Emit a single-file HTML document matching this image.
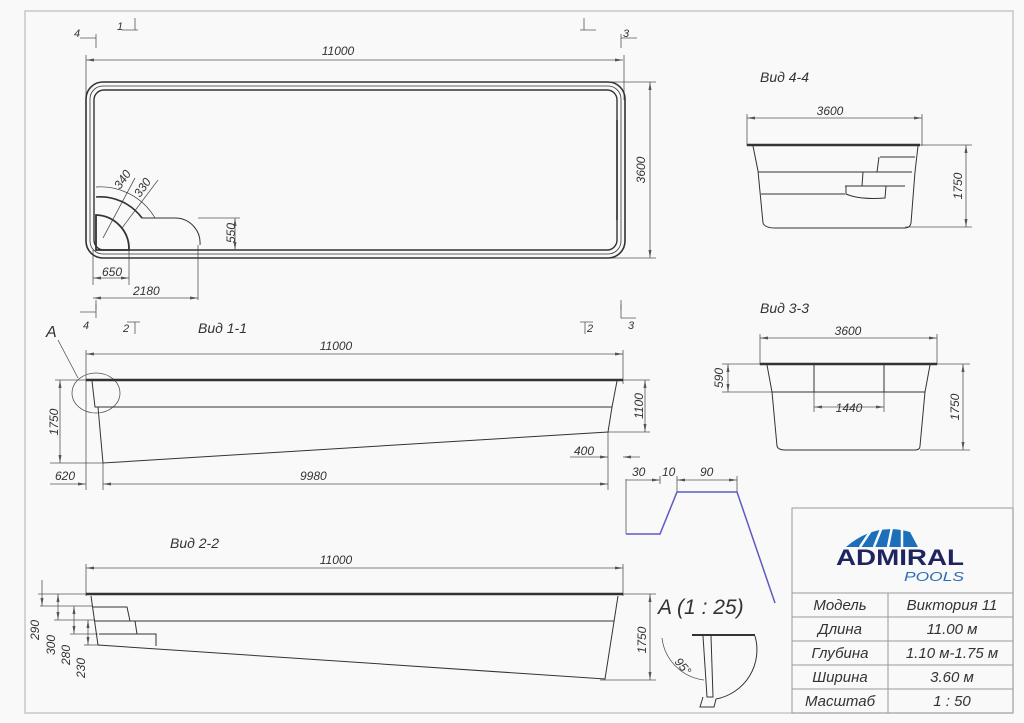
<!DOCTYPE html>
<html><head><meta charset="utf-8"><style>
html,body{margin:0;padding:0;background:#f9f9f9;}
svg{display:block;}
text{font-family:"Liberation Sans","DejaVu Sans",sans-serif;font-style:italic;fill:#333;}
</style></head><body>
<svg width="1024" height="723" viewBox="0 0 1024 723" xmlns="http://www.w3.org/2000/svg">
<rect x="0" y="0" width="1024" height="723" fill="#f9f9f9"/>
<rect x="25" y="11" width="988" height="702" fill="none" stroke="#bbb" stroke-width="1.2"/>
<defs>
<marker id="ar" markerWidth="8" markerHeight="6" refX="8" refY="3" orient="auto-start-reverse" markerUnits="userSpaceOnUse"><path d="M0,1.5 L8,3 L0,4.5" fill="#555"/></marker>
</defs>
<g stroke="#555" stroke-width="0.8" fill="none">
<line x1="86" y1="60" x2="623" y2="60" marker-start="url(#ar)" marker-end="url(#ar)"/>
<line x1="86" y1="55" x2="86" y2="100"/><line x1="624" y1="55" x2="624" y2="100"/>
<line x1="650" y1="82" x2="650" y2="258" marker-start="url(#ar)" marker-end="url(#ar)"/>
<line x1="610" y1="82" x2="656" y2="82"/><line x1="610" y1="258" x2="656" y2="258"/>
<path d="M80,38 L96,38 M96,34 L96,48 M122,30 L138,30 M135,18 L135,30 M580,30 L596,30 M584,18 L584,30 M621,38 L637,38 M621,34 L621,48"/>
<line x1="96" y1="300" x2="96" y2="310"/><line x1="621" y1="300" x2="621" y2="310"/>
<line x1="93" y1="250" x2="93" y2="285"/><line x1="129" y1="250" x2="129" y2="285"/><line x1="198" y1="245" x2="198" y2="300"/>
<line x1="93" y1="278" x2="129" y2="278" marker-start="url(#ar)" marker-end="url(#ar)"/>
<line x1="93" y1="298" x2="198" y2="298" marker-start="url(#ar)" marker-end="url(#ar)"/>
<line x1="235" y1="218" x2="235" y2="250" marker-start="url(#ar)" marker-end="url(#ar)"/>
<line x1="198" y1="218" x2="240" y2="218"/>
<line x1="103" y1="238" x2="135" y2="178"/><line x1="122" y1="228" x2="158" y2="180"/>
</g>
<g fill="none" stroke="#333">
<rect x="86" y="82" width="539" height="176" rx="17" stroke-width="1.6"/>
<rect x="90" y="86" width="531" height="168" rx="13" stroke-width="0.8"/>
<rect x="94" y="90" width="523" height="160" rx="10" stroke-width="1.4"/>
<path d="M96,215 A34,34 0 0 1 129,250 L96,250 Z" stroke-width="1.8"/>
<path d="M96,197 A52,52 0 0 1 142,218 L176,218 A25,25 0 0 1 200,245" stroke-width="1"/>
<path d="M96,187 A63,63 0 0 1 155,218" stroke-width="0.7"/>
<path d="M96,197 A52,52 0 0 1 142,218" stroke-width="1.6"/>
<line x1="617" y1="120" x2="617" y2="220" stroke-width="1.5"/>
</g>
<g font-size="12">
<text x="338" y="55" text-anchor="middle">11000</text>
<text transform="translate(645,170) rotate(-90)" text-anchor="middle">3600</text>
<text x="102" y="276">650</text>
<text x="133" y="295">2180</text>
<text transform="translate(235,243) rotate(-90)">550</text>
<text transform="translate(120,190) rotate(-55)">340</text>
<text transform="translate(140,198) rotate(-55)">330</text>
<text x="74" y="37" font-size="11">4</text><text x="117" y="30" font-size="11">1</text>
<text x="623" y="37" font-size="11">3</text>
<text x="83" y="329" font-size="11">4</text><text x="123" y="332" font-size="11">2</text>
<text x="587" y="332" font-size="11">2</text><text x="628" y="329" font-size="11">3</text>
</g>
<g stroke="#555" stroke-width="0.8" fill="none">
<path d="M80,312 L96,312 M96,304 L96,318 M127,322 L140,322 M135,322 L135,334 M580,322 L593,322 M585,322 L585,334 M621,304 L621,318 L636,318"/>
</g>
<text x="198" y="333" font-size="14">Вид 1-1</text>
<text x="46" y="337" font-size="16">A</text>
<g stroke="#555" stroke-width="0.8" fill="none">
<line x1="86" y1="354" x2="623" y2="354" marker-start="url(#ar)" marker-end="url(#ar)"/>
<line x1="86" y1="350" x2="86" y2="490"/><line x1="623" y1="350" x2="623" y2="384"/>
<line x1="60" y1="380" x2="60" y2="463" marker-start="url(#ar)" marker-end="url(#ar)"/>
<line x1="55" y1="380" x2="86" y2="380"/><line x1="50" y1="463" x2="103" y2="463"/>
<line x1="645" y1="380" x2="645" y2="432" marker-start="url(#ar)" marker-end="url(#ar)"/>
<line x1="623" y1="380" x2="650" y2="380"/><line x1="608" y1="432" x2="650" y2="432"/>
<line x1="103" y1="463" x2="103" y2="490"/><line x1="608" y1="432" x2="608" y2="490"/>
<line x1="103" y1="484" x2="608" y2="484" marker-start="url(#ar)" marker-end="url(#ar)"/>
<line x1="50" y1="484" x2="86" y2="484" marker-end="url(#ar)"/>
<line x1="570" y1="457" x2="608" y2="457" marker-end="url(#ar)"/>
<line x1="623" y1="457" x2="640" y2="457" marker-start="url(#ar)"/>
<ellipse cx="96" cy="393" rx="24" ry="20"/>
<line x1="58" y1="340" x2="78" y2="378"/>
</g>
<g fill="none" stroke="#333" stroke-width="1">
<line x1="86" y1="380" x2="623" y2="380" stroke-width="2.4"/>
<path d="M92,381 L95,407 L612,407 L617,381"/>
<path d="M98,407 L103,463 L608,432 L612,407"/>
</g>
<g font-size="12">
<text x="336" y="350" text-anchor="middle">11000</text>
<text transform="translate(58,422) rotate(-90)" text-anchor="middle">1750</text>
<text transform="translate(643,406) rotate(-90)" text-anchor="middle">1100</text>
<text x="55" y="480">620</text>
<text x="300" y="480">9980</text>
<text x="574" y="455">400</text>
</g>
<text x="170" y="548" font-size="14">Вид 2-2</text>
<g stroke="#555" stroke-width="0.8" fill="none">
<line x1="86" y1="568" x2="623" y2="568" marker-start="url(#ar)" marker-end="url(#ar)"/>
<line x1="86" y1="564" x2="86" y2="596"/><line x1="623" y1="564" x2="623" y2="596"/>
<line x1="650" y1="594" x2="650" y2="680" marker-start="url(#ar)" marker-end="url(#ar)"/>
<line x1="623" y1="594" x2="656" y2="594"/><line x1="600" y1="680" x2="656" y2="680"/>
<line x1="42" y1="580" x2="42" y2="606" marker-end="url(#ar)"/>
<line x1="58" y1="594" x2="58" y2="620" marker-start="url(#ar)" marker-end="url(#ar)"/>
<line x1="74" y1="606" x2="74" y2="634" marker-start="url(#ar)" marker-end="url(#ar)"/>
<line x1="88" y1="620" x2="88" y2="645" marker-start="url(#ar)" marker-end="url(#ar)"/>
<line x1="38" y1="594" x2="88" y2="594"/><line x1="40" y1="606" x2="92" y2="606"/>
<line x1="54" y1="620" x2="95" y2="620"/><line x1="70" y1="634" x2="98" y2="634"/>
<line x1="84" y1="645" x2="100" y2="645"/>
</g>
<g fill="none" stroke="#333" stroke-width="1">
<line x1="86" y1="594" x2="623" y2="594" stroke-width="2.4"/>
<path d="M91,596 L98,645 L605,679 L618,596"/>
<path d="M94,621 L614,621"/>
<path d="M93,607 L127,607 L130,621 M96,621 L135,621 L137,634 M99,634 L156,634 L156,646"/>
</g>
<g font-size="12">
<text x="336" y="564" text-anchor="middle">11000</text>
<text transform="translate(646,640) rotate(-90)" text-anchor="middle">1750</text>
<text transform="translate(39,630) rotate(-90)" text-anchor="middle">290</text>
<text transform="translate(55,645) rotate(-90)" text-anchor="middle">300</text>
<text transform="translate(70,655) rotate(-90)" text-anchor="middle">280</text>
<text transform="translate(85,668) rotate(-90)" text-anchor="middle">230</text>
</g>
<text x="760" y="82" font-size="14">Вид 4-4</text>
<g stroke="#555" stroke-width="0.8" fill="none">
<line x1="747" y1="118" x2="922" y2="118" marker-start="url(#ar)" marker-end="url(#ar)"/>
<line x1="747" y1="114" x2="747" y2="146"/><line x1="922" y1="114" x2="922" y2="146"/>
<line x1="966" y1="145" x2="966" y2="227" marker-start="url(#ar)" marker-end="url(#ar)"/>
<line x1="920" y1="145" x2="972" y2="145"/><line x1="905" y1="227" x2="972" y2="227"/>
</g>
<g fill="none" stroke="#333" stroke-width="1">
<line x1="747" y1="145" x2="920" y2="145" stroke-width="2.4"/>
<path d="M753,146 L758,171 L763,223 Q765,228 775,228 L905,228 Q910,228 911,223 L915,172 L918,146"/>
<path d="M758,172 L880,172 M761,194 L845,194"/>
<path d="M880,157 L915,157 M879,157 L877,172 M862,172 L912,172 M863,172 L862,186 M845,186 L905,186 M846,186 L846,194 Q860,200 885,198 L886,186"/>
</g>
<g font-size="12">
<text x="830" y="115" text-anchor="middle">3600</text>
<text transform="translate(962,186) rotate(-90)" text-anchor="middle">1750</text>
</g>
<text x="760" y="313" font-size="14">Вид 3-3</text>
<g stroke="#555" stroke-width="0.8" fill="none">
<line x1="760" y1="338" x2="937" y2="338" marker-start="url(#ar)" marker-end="url(#ar)"/>
<line x1="760" y1="334" x2="760" y2="365"/><line x1="937" y1="334" x2="937" y2="365"/>
<line x1="728" y1="364" x2="728" y2="392" marker-start="url(#ar)" marker-end="url(#ar)"/>
<line x1="722" y1="364" x2="762" y2="364"/><line x1="722" y1="392" x2="772" y2="392"/>
<line x1="963" y1="364" x2="963" y2="450" marker-start="url(#ar)" marker-end="url(#ar)"/>
<line x1="937" y1="364" x2="970" y2="364"/><line x1="920" y1="450" x2="970" y2="450"/>
<line x1="814" y1="407" x2="884" y2="407" marker-start="url(#ar)" marker-end="url(#ar)"/>
<line x1="814" y1="392" x2="814" y2="412"/><line x1="884" y1="392" x2="884" y2="412"/>
</g>
<g fill="none" stroke="#333" stroke-width="1">
<line x1="760" y1="364" x2="937" y2="364" stroke-width="2.4"/>
<path d="M767,365 L772,392 L777,446 Q778,450 785,450 L915,450 Q920,450 920,446 L925,392 L930,365"/>
<path d="M772,392 L925,392 M814,365 L814,392 M884,365 L884,392"/>
</g>
<g font-size="12">
<text x="848" y="335" text-anchor="middle">3600</text>
<text x="849" y="412" text-anchor="middle">1440</text>
<text transform="translate(723,378) rotate(-90)" text-anchor="middle">590</text>
<text transform="translate(959,407) rotate(-90)" text-anchor="middle">1750</text>
</g>
<g stroke="#555" stroke-width="0.8" fill="none">
<line x1="626" y1="479" x2="626" y2="534"/>
<line x1="660" y1="476" x2="660" y2="484"/><line x1="677" y1="476" x2="677" y2="492"/><line x1="737" y1="476" x2="737" y2="492"/>
<line x1="626" y1="480" x2="660" y2="480" marker-end="url(#ar)"/>
<line x1="677" y1="480" x2="737" y2="480" marker-start="url(#ar)" marker-end="url(#ar)"/>
</g>
<path d="M626,534 L660,534 L677,492 L737,492 L775,603" fill="none" stroke="#5b5bc0" stroke-width="1.5"/>
<g font-size="12"><text x="632" y="476">30</text><text x="662" y="476">10</text><text x="700" y="476">90</text></g>
<text x="658" y="614" font-size="21">A (1 : 25)</text>
<g fill="none" stroke="#333" stroke-width="1">
<line x1="692" y1="635" x2="755" y2="635" stroke-width="2"/>
<path d="M703,636 L707,697 L713,697 L711,636"/>
<path d="M755,636 A50,50 0 0 1 716,699 L714,707 L700,707 L703,697"/>
<path d="M662,638 A48,48 0 0 0 704,680" stroke="#555" stroke-width="0.8"/>
</g>
<text transform="translate(674,662) rotate(50)" font-size="12">95°</text>
<g fill="none" stroke="#999" stroke-width="1">
<rect x="792" y="508" width="221" height="205"/>
<line x1="792" y1="593" x2="1013" y2="593"/>
<line x1="792" y1="617" x2="1013" y2="617"/><line x1="792" y1="641" x2="1013" y2="641"/>
<line x1="792" y1="665" x2="1013" y2="665"/><line x1="792" y1="689" x2="1013" y2="689"/>
<line x1="888" y1="593" x2="888" y2="713"/>
</g>
<g>
<path d="M846,547 Q875,522 910,532 L918,547 Z" fill="#1c6fb8"/>
<g stroke="#f9f9f9" stroke-width="2.5"><line x1="860" y1="547" x2="872" y2="529"/><line x1="874" y1="547" x2="882" y2="527"/><line x1="888" y1="547" x2="892" y2="527"/><line x1="902" y1="547" x2="902" y2="529"/></g>
<text x="900" y="565" text-anchor="middle" font-size="22" font-weight="bold" style="font-style:normal;fill:#1f2460" textLength="128" lengthAdjust="spacingAndGlyphs">ADMIRAL</text>
<text x="904" y="581" font-size="13" style="fill:#2a6fb8" textLength="60" lengthAdjust="spacingAndGlyphs">POOLS</text>
</g>
<g font-size="15" text-anchor="middle">
<text x="840" y="610">Модель</text><text x="952" y="610">Виктория 11</text>
<text x="840" y="634">Длина</text><text x="952" y="634">11.00 м</text>
<text x="840" y="658">Глубина</text><text x="952" y="658">1.10 м-1.75 м</text>
<text x="840" y="682">Ширина</text><text x="952" y="682">3.60 м</text>
<text x="840" y="706">Масштаб</text><text x="952" y="706">1 : 50</text>
</g>
</svg>
</body></html>
